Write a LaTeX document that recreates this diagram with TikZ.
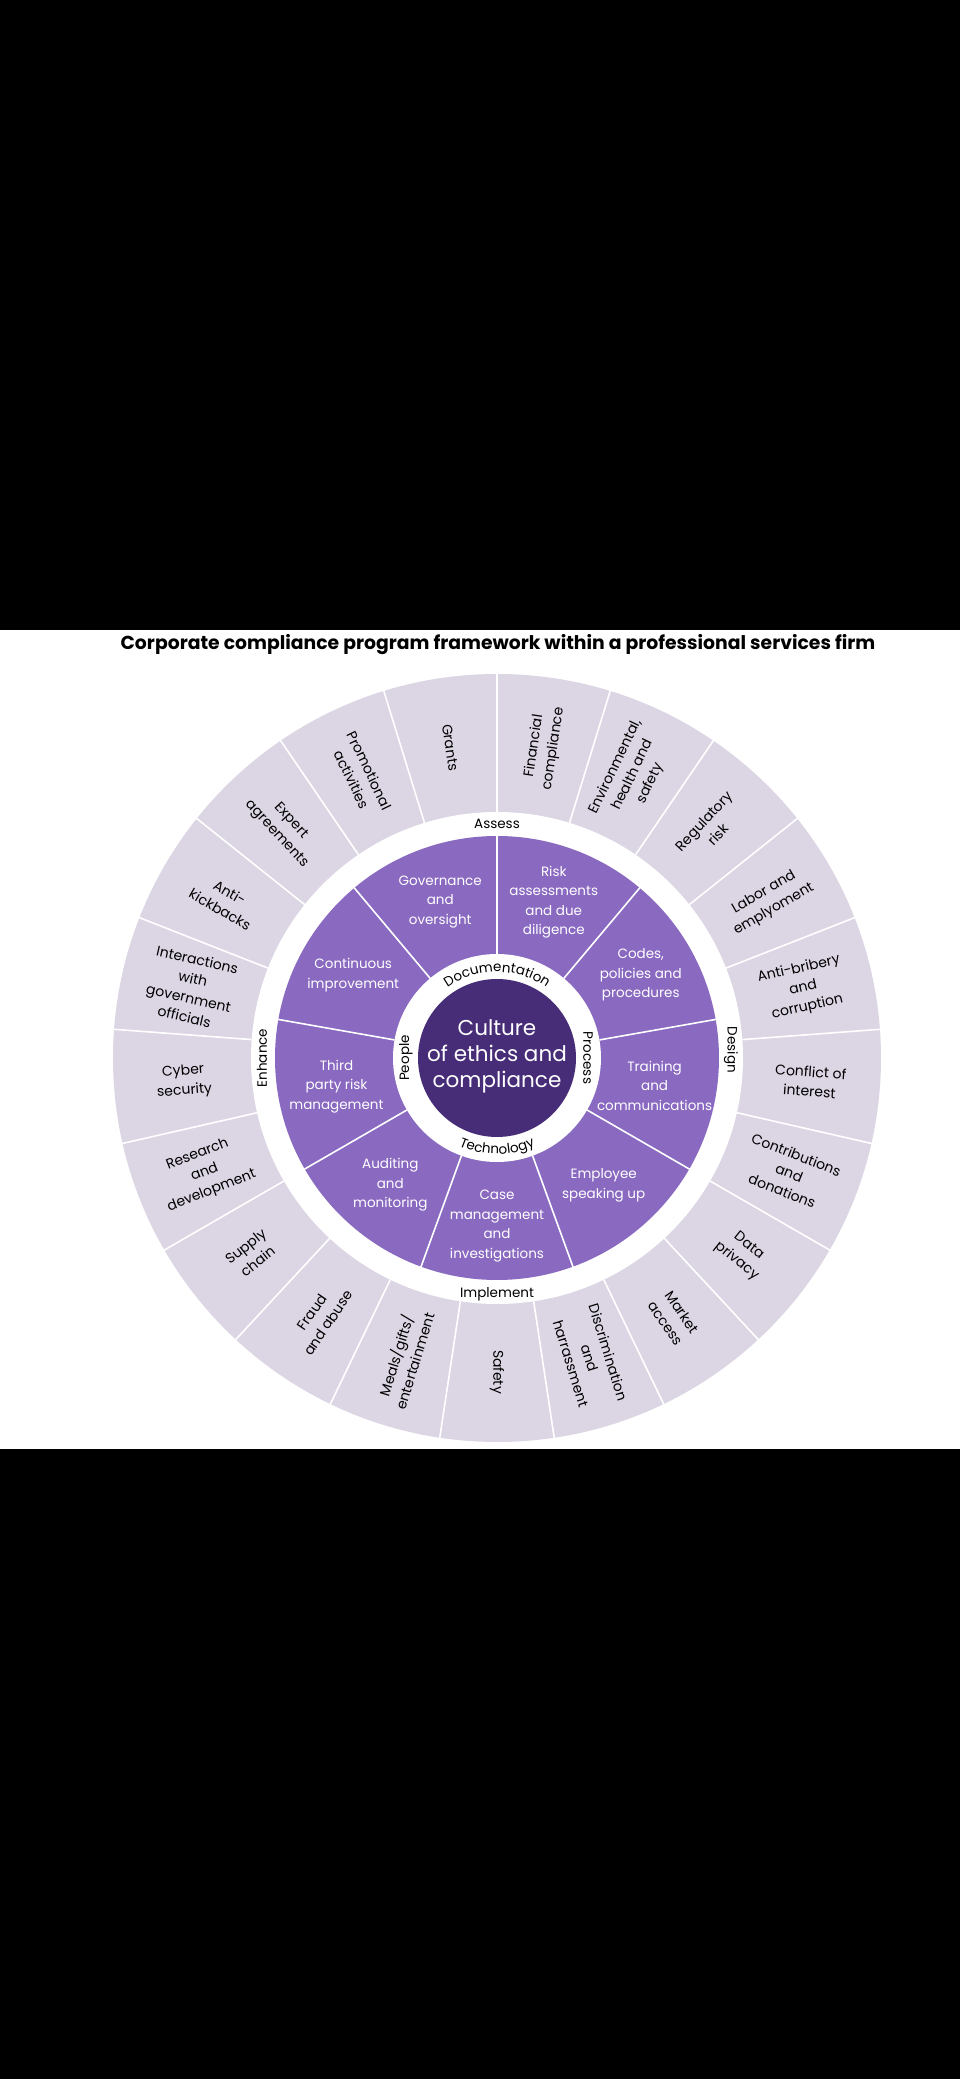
\documentclass[tikz,border=0pt]{standalone}
\usepackage{fontspec}
\setmainfont{Poppins}
\usetikzlibrary{decorations.text}
\definecolor{light}{HTML}{DCD5E4}
\definecolor{mid}{HTML}{8A69C1}
\definecolor{dark}{HTML}{472D77}
\newcommand\rlabfont{\fontsize{13.5}{14}\selectfont}
\begin{document}
\begin{tikzpicture}[x=1pt,y=1pt,
  outer/.style={align=center,text=black,font=\fontsize{14}{19.5}\selectfont,inner sep=0},
  inner/.style={align=center,text=white,font=\fontsize{13.5}{19.5}\selectfont,inner sep=0},
  ringlab/.style={text=black,font=\rlabfont,inner sep=0},
  sep/.style={white,line width=1.6pt}]
\useasboundingbox (-497,-1021) rectangle (463,1058);
\fill[black] (-497,-1021) rectangle (463,1058);
\fill[white] (-497,-391) rectangle (463,428);
\node[font=\bfseries\fontsize{18.8}{22}\selectfont] (title) at (1,413) {Corporate compliance program framework within a professional services firm};
% outer ring
\fill[light] (0,0) circle (384);
\foreach \k in {0,...,20}{
  \draw[sep] ({90-17.142857*\k}:246) -- ({90-17.142857*\k}:385);
}
\foreach \k/\t in {0/{Financial\\compliance},1/{Environmental,\\health and\\safety},2/{Regulatory\\risk},3/{Labor and\\emplyoment},4/{Anti-bribery\\and\\corruption},5/{Conflict of\\interest},6/{Contributions\\and\\donations},7/{Data\\privacy},8/{Market\\access},9/{Discrimination\\and\\harrassment},10/{Safety},11/{Meals/gifts/\\entertainment},12/{Fraud\\and abuse},13/{Supply\\chain},14/{Research\\and\\development},15/{Cyber\\security},16/{Interactions\\with\\government\\officials},17/{Anti-\\kickbacks},18/{Expert\\agreements},19/{Promotional\\activities},20/{Grants}}{
  \pgfmathsetmacro\ang{81.428571-17.142857*\k}
  \pgfmathsetmacro\rot{\k<=10 ? \ang : \ang+180}
  \node[outer,rotate=\rot] (o\k) at (\ang:314) {\t};
}
% white gap and purple ring
\fill[white] (0,0) circle (246);
\fill[mid] (0,0) circle (222);
\foreach \k in {0,...,8}{
  \draw[sep] ({90-40*\k}:104) -- ({90-40*\k}:223);
}
\foreach \a/\n/\r/\t in {110/gov/166/{Governance\\and\\oversight},70/risk/166/{Risk\\assessments\\and due\\diligence},30/codes/166/{Codes,\\policies and\\procedures},-10/train/160/{Training\\and\\communications},-50/emp/166/{Employee\\speaking up},-90/case/168/{Case\\management\\and\\investigations},-130/aud/166/{Auditing\\and\\monitoring},-170/third/163/{Third\\party risk\\management},150/cont/166/{Continuous\\improvement}}{
  \node[inner] (\n) at (\a:\r) {\t};
}
\fill[white] (0,0) circle (104);
\fill[dark] (0,0) circle (79);
\node[align=center,text=white,font=\fontsize{21.5}{26}\selectfont,inner sep=0] (core) at (0,2) {Culture\\of ethics and\\compliance};
% ring labels
\node[ringlab] (assess) at (90:234) {Assess};
\node[ringlab,rotate=-90] (design) at (2:234) {Design};
\node[ringlab] (implement) at (-90:236) {Implement};
\node[ringlab,rotate=90] (enhance) at (180:235) {Enhance};
\node[ringlab,rotate=-90] (process) at (0:91) {Process};
\node[ringlab,rotate=90] (people) at (180:91) {People};
\path[decorate,decoration={text along path,text={|\rlabfont|Documentation},text align=center}] (135:86) arc (135:45:86);
\path[decorate,decoration={text along path,text={|\rlabfont|Technology},text align=center}] (-135:96) arc (-135:-45:96);
\end{tikzpicture}
\end{document}
